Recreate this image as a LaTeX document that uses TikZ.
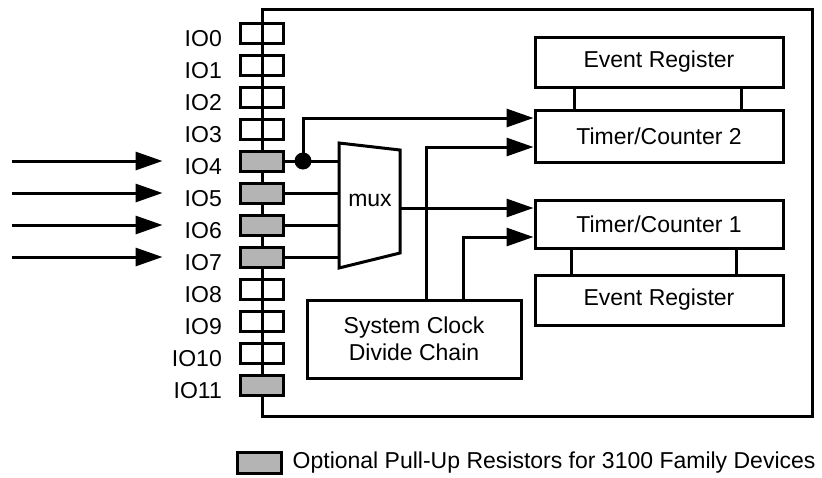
\documentclass[tikz,border=0pt]{standalone}
\usepackage{fontspec}
\setmainfont{Liberation Sans}
\usepackage{tikz}
\usetikzlibrary{arrows.meta,positioning,calc}
\definecolor{pullgray}{RGB}{180,180,180}
\newcommand\diagfont{\fontsize{23}{27.5}\selectfont}
\tikzset{
  iobox/.style={draw=black,line width=3pt,minimum width=43pt,minimum height=20pt,inner sep=0pt},
  pullbox/.style={iobox,fill=pullgray},
  blockbox/.style={draw=black,line width=3pt,fill=white,align=center,
    minimum width=248pt,minimum height=50pt,inner sep=0pt,font=\diagfont},
  iolabel/.style={anchor=east,inner sep=0pt,font=\diagfont},
  sigline/.style={line width=3pt},
  sigarrow/.style={line width=3pt,-{Triangle[length=27pt,width=18pt]}},
  tapdot/.style={circle,fill=black,inner sep=0pt,minimum size=17pt}
}

\begin{document}
\begin{tikzpicture}[x=1pt,y=-1pt]
  \useasboundingbox (0,0) rectangle (822,477);
  % chip outline
  \draw[sigline] (262,9) rectangle (812,416);
  % pins
  \foreach \i in {0,1,2,3,8,9,10}
    \node[iobox] (io\i) at (262,33+32*\i) {};
  \foreach \i in {4,5,6,7,11}
    \node[pullbox] (io\i) at (262,33+32*\i) {};
  \foreach \i in {0,...,11}
    \node[iolabel] (lbl\i) at (222,39+32*\i) {IO\i};
  \foreach \i in {4,...,7}{
    \coordinate (src\i) at (12,33+32*\i);
    \draw[sigarrow,shorten >=22pt] (src\i) -- (src\i -| lbl\i.west);
  }
  % mux
  \coordinate (muxtl) at (339,143);
  \coordinate (muxtr) at (400,150);
  \coordinate (muxbr) at (400,253);
  \coordinate (muxbl) at (339,268);
  \draw[sigline,fill=white] (muxtl) -- (muxtr) -- (muxbr) -- (muxbl) -- cycle;
  \node[font=\diagfont,inner sep=0pt] (mux) at (370,200) {mux};
  \foreach \i in {4,...,7}
    \draw[sigline] (io\i.east) -- (io\i.east -| muxtl);
  \node[tapdot] (tap) at (303,161) {};
  % blocks
  \node[blockbox] (er2) at (659,62) {Event Register};
  \node[blockbox,minimum height=52pt] (tc2) at (659,136) {Timer/Counter 2};
  \node[blockbox,minimum height=48pt] (tc1) at (659,224) {Timer/Counter 1};
  \node[blockbox] (er1) at (659,300) {Event Register};
  \node[blockbox,minimum width=214pt,minimum height=78pt] (clock) at (414,339)
    {System Clock\\Divide Chain};
  \draw[sigline] ([xshift=41pt]er2.south west) -- ([xshift=41pt]tc2.north west);
  \draw[sigline] ([xshift=-43pt]er2.south east) -- ([xshift=-43pt]tc2.north east);
  \draw[sigline] ([xshift=38pt]tc1.south west) -- ([xshift=38pt]er1.north west);
  \draw[sigline] ([xshift=-48pt]tc1.south east) -- ([xshift=-48pt]er1.north east);
  % inputs of the timers
  \coordinate (tc2a) at ($(tc2.west)+(0,-18)$);
  \coordinate (tc2b) at ($(tc2.west)+(0,11)$);
  \coordinate (tc1a) at ($(tc1.west)+(0,-16)$);
  \coordinate (tc1b) at ($(tc1.west)+(0,13)$);
  \draw[sigarrow] (tap.center) |- (tc2a);
  \draw[sigarrow] (muxtr |- tc1a) -- (tc1a);
  \draw[sigarrow] ([xshift=12pt]clock.north) |- (tc2b);
  \draw[sigarrow] ([xshift=49pt]clock.north) |- (tc1b);
  % legend
  \node[pullbox,minimum width=44pt,minimum height=21pt] (key) at (259,463) {};
  \node[right=10pt of key,inner sep=0pt,font=\diagfont] (keytext)
    {Optional Pull-Up Resistors for 3100 Family Devices};
\end{tikzpicture}
\end{document}
